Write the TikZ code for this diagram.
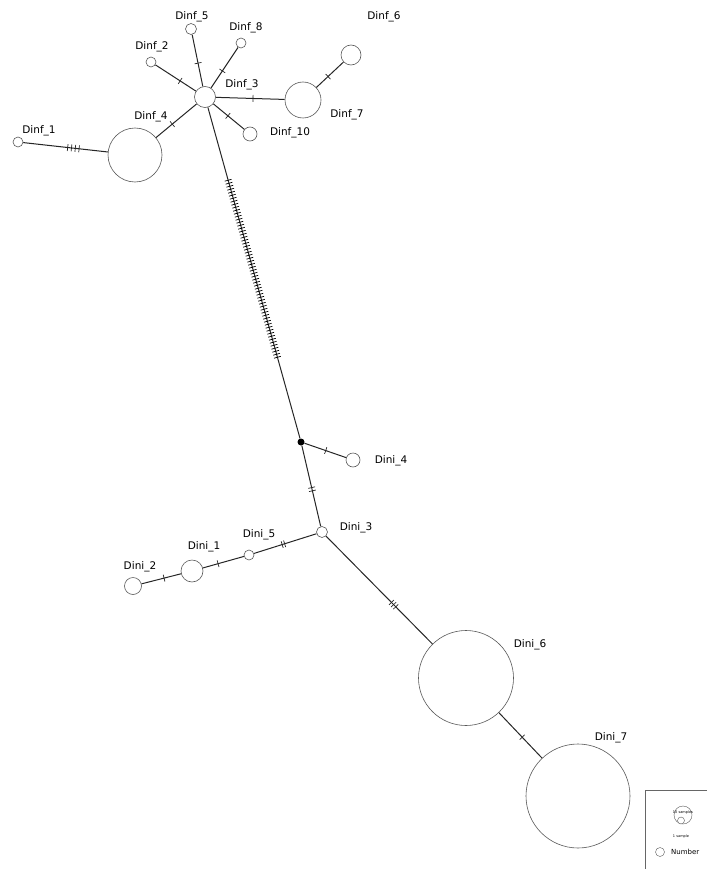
\documentclass[tikz,border=0pt]{standalone}
\usepackage{fontspec}
\setmainfont{DejaVu Sans}
\begin{document}
\begin{tikzpicture}[x=1pt, y=-1pt,
  hap/.style={draw=black!65, line width=0.6pt, circle, inner sep=0pt, fill=white},
  lab/.style={inner sep=0pt, font=\fontsize{10.5}{12}\selectfont},
  mut/.style={draw, line width=0.7pt, sloped, inner sep=0pt, outer sep=0pt, minimum width=0pt, minimum height=7pt},
  edge/.style={draw=black!85, line width=1pt}]
\useasboundingbox (0,0) rectangle (706,869);
% haplotypes, Dinf group
\node[hap, minimum size=21pt] (Dinf3) at (205,97) {};
\node[hap, minimum size=11pt] (Dinf5) at (191,29) {};
\node[hap, minimum size=10pt] (Dinf8) at (241,43) {};
\node[hap, minimum size=10pt] (Dinf2) at (151,62) {};
\node[hap, minimum size=36pt] (Dinf7) at (303,100) {};
\node[hap, minimum size=20pt] (Dinf6) at (351,55) {};
\node[hap, minimum size=14pt] (Dinf10) at (250,134) {};
\node[hap, minimum size=54pt] (Dinf4) at (135,155) {};
\node[hap, minimum size=10pt] (Dinf1) at (18,142) {};
% median vector
\node[circle, fill=black, inner sep=0pt, minimum size=7pt] (med) at (301,442) {};
% haplotypes, Dini group
\node[hap, minimum size=14pt] (Dini4) at (353,460) {};
\node[hap, minimum size=11pt] (Dini3) at (322,532) {};
\node[hap, minimum size=10pt] (Dini5) at (249,555) {};
\node[hap, minimum size=22pt] (Dini1) at (192,571) {};
\node[hap, minimum size=17pt] (Dini2) at (133,586) {};
\node[hap, minimum size=95pt] (Dini6) at (466,678) {};
\node[hap, minimum size=104pt] (Dini7) at (578,796) {};
% labels
\node[lab] (tDinf3) at (242,85) {Dinf\_3};
\node[lab] (tDinf5) at (192,17) {Dinf\_5};
\node[lab] (tDinf8) at (246,28) {Dinf\_8};
\node[lab] (tDinf2) at (152,47) {Dinf\_2};
\node[lab] (tDinf7) at (347,115) {Dinf\_7};
\node[lab] (tDinf6) at (384,17) {Dinf\_6};
\node[lab] (tDinf10) at (290,133) {Dinf\_10};
\node[lab] (tDinf4) at (151,117) {Dinf\_4};
\node[lab] (tDinf1) at (39,131) {Dinf\_1};
\node[lab] (tDini4) at (391,461) {Dini\_4};
\node[lab] (tDini3) at (356,528) {Dini\_3};
\node[lab] (tDini5) at (259,535) {Dini\_5};
\node[lab] (tDini1) at (204,547) {Dini\_1};
\node[lab] (tDini2) at (140,567) {Dini\_2};
\node[lab] (tDini6) at (530,645) {Dini\_6};
\node[lab] (tDini7) at (611,738) {Dini\_7};
% edges with mutation ticks
\draw[edge] (Dinf3) -- (Dinf5) node[mut, pos=.45] {};
\draw[edge] (Dinf3) -- (Dinf8) node[mut, pos=.42] {};
\draw[edge] (Dinf3) -- (Dinf2) node[mut, pos=.39] {};
\draw[edge] (Dinf3) -- (Dinf7) node[mut, pos=.54] {};
\draw[edge] (Dinf3) -- (Dinf10) node[mut, pos=.47] {};
\draw[edge] (Dinf3) -- (Dinf4) node[mut, pos=.6] {};
\draw[edge] (Dinf7) -- (Dinf6) node[mut, pos=.43] {};
\draw[edge] (Dinf4) -- (Dinf1) node[mut, pos=.34] {} node[mut, pos=.385] {}
  node[mut, pos=.43] {} node[mut, pos=.475] {};
\draw[edge] (Dinf3) -- (med);
\foreach \i [evaluate=\i as \p using 0.22+\i*0.00907] in {0,...,59}
  \path (Dinf3) -- (med) node[mut, pos=\p] {};
\draw[edge] (med) -- (Dini4) node[mut, pos=.51] {};
\draw[edge] (med) -- (Dini3) node[mut, pos=.52] {} node[mut, pos=.56] {};
\draw[edge] (Dini3) -- (Dini5) node[mut, pos=.51] {} node[mut, pos=.55] {};
\draw[edge] (Dini5) -- (Dini1) node[mut, pos=.63] {};
\draw[edge] (Dini1) -- (Dini2) node[mut, pos=.43] {};
\draw[edge] (Dini3) -- (Dini6) node[mut, pos=.615] {} node[mut, pos=.635] {} node[mut, pos=.655] {};
\draw[edge] (Dini6) -- (Dini7) node[mut, pos=.54] {};
% legend
\draw[black!60, line width=0.5pt] (645,875) |- (712,790);
\node[hap, minimum size=18pt, line width=0.4pt] (big) at (683,815) {};
\node[hap, minimum size=7pt, line width=0.4pt] (small) at (681,820.5) {};
\node[inner sep=0pt, font=\fontsize{3.5}{4}\selectfont] (t10) at (683,813) {10 samples};
\node[inner sep=0pt, font=\fontsize{3.5}{4}\selectfont] (t1) at (681,837) {1 sample};
\node[hap, minimum size=9pt, line width=0.4pt] (key) at (660,852) {};
\node[inner sep=0pt, anchor=west, font=\fontsize{7}{8}\selectfont] (tkey) at (671,852) {Number};
\end{tikzpicture}
\end{document}
